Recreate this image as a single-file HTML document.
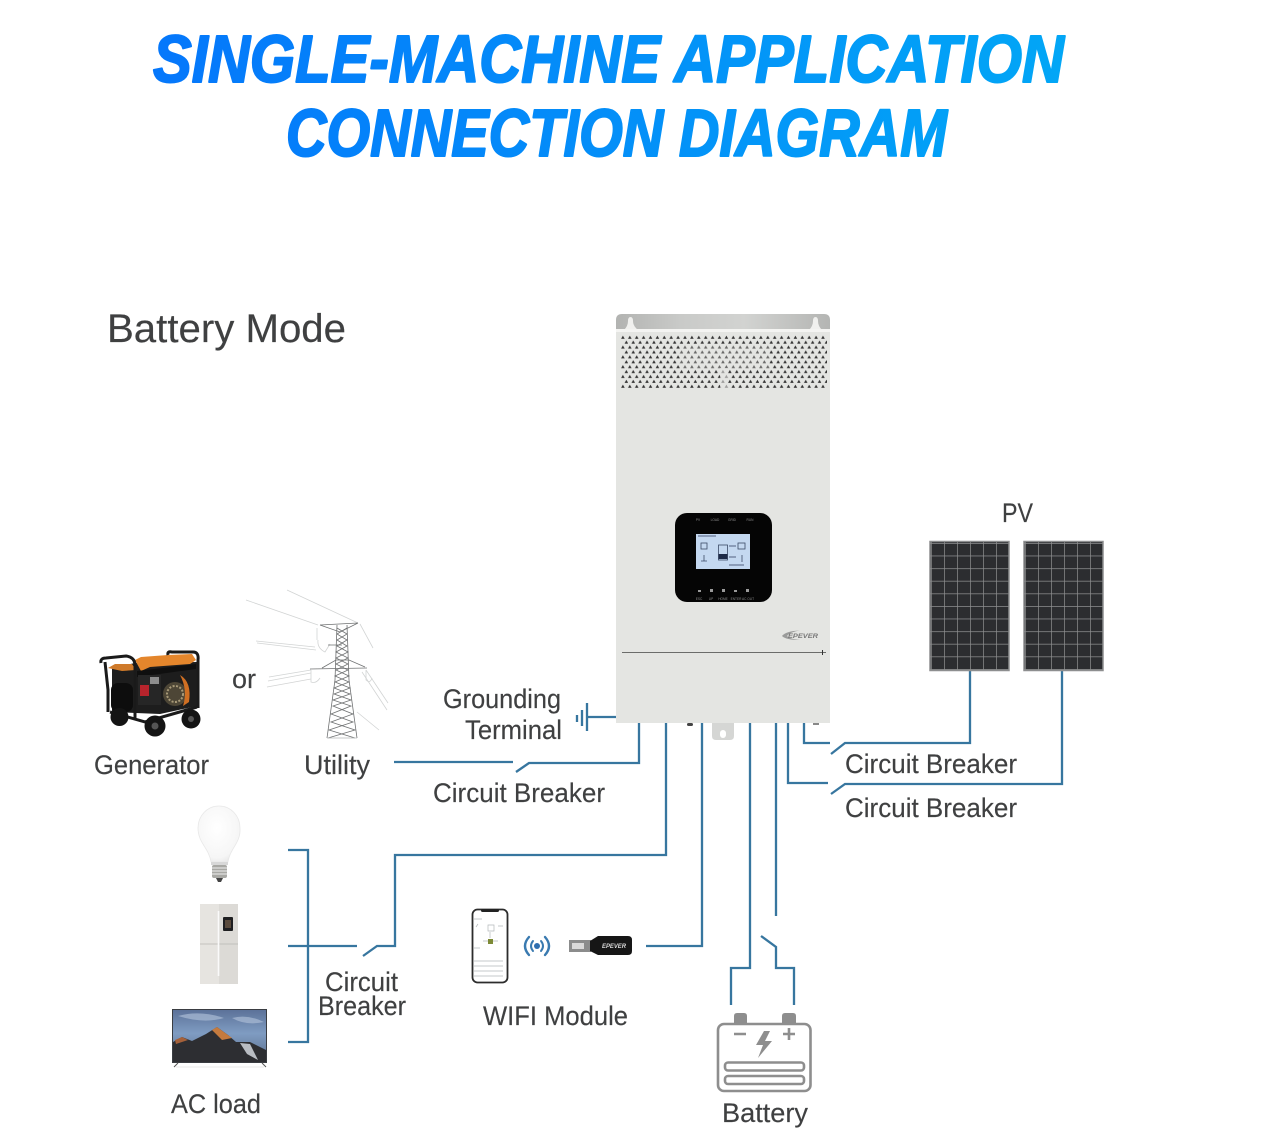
<!DOCTYPE html>
<html lang="en">
<head>
<meta charset="utf-8">
<title>Single-Machine Application Connection Diagram</title>
<style>
html,body{margin:0;padding:0;background:#fff;}
svg{display:block;}
.t{font-family:"Liberation Sans","Noto Sans CJK SC",sans-serif;font-size:27px;fill:#3f4041;stroke:#3f4041;stroke-width:.15;}
.ttl{font-family:"Liberation Sans",sans-serif;font-weight:bold;font-style:italic;font-size:67px;fill:url(#tg);stroke:url(#tg);stroke-width:2;stroke-linejoin:round;}
.w{fill:none;stroke:#37769f;stroke-width:2.3;}
</style>
</head>
<body>
<svg xmlns="http://www.w3.org/2000/svg" width="1278" height="1140" viewBox="0 0 1278 1140">
<defs>
<linearGradient id="tg" gradientUnits="userSpaceOnUse" x1="150" y1="0" x2="1065" y2="0">
<stop offset="0" stop-color="#0577fb"/><stop offset="1" stop-color="#02a6f6"/>
</linearGradient>
<linearGradient id="band" x1="0" y1="0" x2="1" y2="0">
<stop offset="0" stop-color="#b2b3b1"/><stop offset=".3" stop-color="#c9cac8"/><stop offset=".6" stop-color="#d2d3d1"/><stop offset="1" stop-color="#b4b5b3"/>
</linearGradient>
<pattern id="vent" patternUnits="userSpaceOnUse" x="621" y="335" width="6.9" height="9.8">
<path d="M1.900 .6L3.700 3.800H.1Z M5.350 5.500L7.150 8.700H3.550Z" fill="#333"/>
</pattern>
<pattern id="cell" patternUnits="userSpaceOnUse" x="931" y="543" width="13" height="12.6">
<rect width="13" height="12.6" fill="#2c2d30"/>
<path d="M0 .4H13M.4 0V12.6" stroke="#8f9091" stroke-width=".7"/>
</pattern>
<pattern id="cell2" patternUnits="userSpaceOnUse" x="1025" y="543" width="13" height="12.6">
<rect width="13" height="12.6" fill="#2c2d30"/>
<path d="M0 .4H13M.4 0V12.6" stroke="#8f9091" stroke-width=".7"/>
</pattern>
<radialGradient id="bulb" cx=".45" cy=".4" r=".7">
<stop offset="0" stop-color="#ffffff"/><stop offset=".75" stop-color="#f6f6f6"/><stop offset="1" stop-color="#e2e2e2"/>
</radialGradient>
<linearGradient id="sky" x1="0" y1="0" x2="0" y2="1">
<stop offset="0" stop-color="#5c7299"/><stop offset=".45" stop-color="#7f9cc2"/><stop offset="1" stop-color="#5a6e8c"/>
</linearGradient>
</defs>

<rect width="1278" height="1140" fill="#fff"/>

<!-- Title -->
<text class="ttl" x="153" y="82" textLength="911" lengthAdjust="spacingAndGlyphs">SINGLE-MACHINE APPLICATION</text>
<text class="ttl" x="286" y="156" textLength="661" lengthAdjust="spacingAndGlyphs">CONNECTION DIAGRAM</text>

<text class="t" x="107" y="342" style="font-size:40px" textLength="239" lengthAdjust="spacingAndGlyphs">Battery Mode</text>

<!-- Wires -->
<g class="w">
<path d="M577 715V722M582 710V726M587 703V731M587 717H617"/>
<path d="M394 762H513M516 772L529 763H639V722"/>
<path d="M666 722V855H395V946H377L363 956"/>
<path d="M288 946H357"/>
<path d="M288 850H308V1042H288"/>
<path d="M702 722V946H646"/>
<path d="M750 722V968H731V1005"/>
<path d="M776 722V916"/>
<path d="M761 936L776 947V968H794V1005"/>
<path d="M788 722V783H828"/>
<path d="M831 794L845 784H1062V670"/>
<path d="M804 722V743H830"/>
<path d="M831 754L845 743H970V670"/>
</g>

<!-- Inverter -->
<path d="M616 329V320Q616 314 622 314H824Q830 314 830 320V329Z" fill="url(#band)"/>
<path d="M624 330Q628 326 628 321Q628 317 630.500 317Q633 317 633 321Q633 326 638 330Z M809 330Q813 326 813 321Q813 317 815.500 317Q818 317 818 321Q818 326 822 330Z" fill="#f0f0ee"/>
<rect x="616" y="329" width="214" height="3" fill="#f4f4f2"/>
<rect x="616" y="332" width="214" height="391" fill="#e4e5e2"/>
<rect x="621" y="335" width="206" height="54" fill="url(#vent)"/>
<rect x="680" y="345" width="90" height="24" fill="#e4e5e2" opacity=".3"/>
<rect x="720" y="368" width="8" height="21" fill="#e4e5e2" opacity=".6"/>
<path d="M622 652.500H826" stroke="#6b6c6a" stroke-width="1.100"/>
<path d="M822.500 650V655" stroke="#333" stroke-width="1"/>

<!-- Control panel -->
<rect x="675" y="513" width="97" height="89" rx="12" fill="#050505"/>
<rect x="696" y="534" width="54" height="35" fill="#c4d8f0"/>
<g fill="#8c8c8c" font-family="Liberation Sans, sans-serif" font-size="3.200" text-anchor="middle">
<text x="698" y="521">PV</text><text x="715" y="521">LOAD</text><text x="732" y="521">GRID</text><text x="750" y="521">RUN</text>
<text x="699" y="600">ESC</text><text x="711" y="600">UP</text><text x="723" y="600">HOME</text><text x="736" y="600">ENTER</text><text x="748" y="600">AC OUT</text>
</g>
<g fill="#9a9a9a">
<rect x="698" y="590" width="3" height="2"/><rect x="710" y="589" width="3" height="3"/><rect x="722" y="589" width="3" height="3"/><rect x="734" y="590" width="3" height="2"/><rect x="746" y="589" width="3" height="3"/>
</g>
<g fill="none" stroke="#3b4a66" stroke-width=".8">
<rect x="701" y="543" width="6" height="6"/><path d="M704 555V561M701 561H707"/>
<rect x="718.500" y="545" width="9" height="15"/><rect x="738" y="543" width="7" height="6"/><path d="M742 555V562"/>
</g>
<rect x="718.500" y="554" width="9" height="5" fill="#1d2a47"/>
<path d="M698 536H716M729 546H736M729 557H736M729 565H744" stroke="#52617f" stroke-width=".9"/>

<!-- Logo -->
<path d="M782 636Q786 631 800 630.500Q790 632 787 636Q790 639 800 640Q786 640 782 636Z" fill="#9a9b9a"/>
<text x="788" y="638" font-family="Liberation Sans, sans-serif" font-size="6.500" font-weight="bold" font-style="italic" fill="#777" textLength="30" lengthAdjust="spacingAndGlyphs">EPEVER</text>

<!-- Bottom fittings -->
<path d="M712 723H734V736Q734 740 730 740H716Q712 740 712 736Z" fill="#d5d6d4"/>
<rect x="720" y="730" width="6" height="8" rx="3" fill="#fff"/>
<rect x="687" y="723" width="6" height="3" rx="1.500" fill="#444"/>
<rect x="813" y="723" width="6" height="2" fill="#888"/>

<!-- PV -->
<text class="t" x="1002" y="522" textLength="31" lengthAdjust="spacingAndGlyphs">PV</text>
<rect x="930" y="541.500" width="79" height="129" fill="url(#cell)" stroke="#8d8e8f" stroke-width="1.500"/>
<rect x="1024" y="541.500" width="79" height="129" fill="url(#cell2)" stroke="#8d8e8f" stroke-width="1.500"/>

<!-- Generator -->
<g>
<path d="M112 668L135 663L197 662V706L160 714L112 712Z" fill="#1d1d1d"/>
<path d="M135 660L141 657L168 655L192 654L196 660L190 664L150 667L141 671Z" fill="#e4862c"/>
<path d="M108 668L115 664L132 664L136 670L122 671Z" fill="#cf7a2a"/>
<path d="M137 671L196 664V669L137 677Z" fill="#0f0f0f"/>
<path d="M101 663Q100 658 106 658L126 656Q134 657 135 664V720" fill="none" stroke="#1a1a1a" stroke-width="3"/>
<path d="M168 655Q167 651 172 652L193 652Q199 652 198 660V708" fill="none" stroke="#1a1a1a" stroke-width="3"/>
<path d="M105 662L108 690V712M110 712L145 722L197 707" fill="none" stroke="#1a1a1a" stroke-width="3"/>
<rect x="111" y="683" width="22" height="29" rx="7" fill="#0d0d0d"/>
<rect x="138" y="675" width="23" height="30" fill="#262626"/>
<rect x="140" y="685" width="9" height="11" fill="#b7242c"/>
<rect x="150" y="677" width="9" height="7" fill="#8d8d8d"/>
<circle cx="175" cy="694" r="12" fill="#4d4636"/>
<circle cx="175" cy="694" r="8" fill="none" stroke="#a89a78" stroke-width="2" stroke-dasharray="2 1.500"/>
<path d="M180 675Q192 682 189 702L183 706Q188 690 180 675Z" fill="#cf6f23"/>
<circle cx="119.500" cy="717" r="9" fill="#141414"/>
<circle cx="155" cy="726" r="10.500" fill="#141414"/><circle cx="155" cy="726" r="3.500" fill="#555"/>
<circle cx="191" cy="719" r="9.500" fill="#141414"/><circle cx="191" cy="719" r="3" fill="#555"/>
</g>

<!-- Utility tower -->
<g fill="none" stroke="#d2d4d4" stroke-width=".8">
<path d="M246 600L318 625M287 590L358 623M256 641L315 647M257 643L316 650M269 677L311 670M268 681L311 673M267 687L311 679"/>
<path d="M360 624L373 648M366 670L388 703M362 672L387 710M357 712L379 730"/>
<path d="M317 628V640M318 640Q317 648 325 652L330 644M311 670V682Q316 684 320 678M366 670V680Q370 684 372 678"/>
</g>
<g fill="none" stroke="#6f7172" stroke-width=".8">
<path d="M320 625L358 623M310 669L367 668M322 668L336 660H349L365 667M328 645H342"/>
<path d="M337 625L335 680L327 738M347 625L349 680L357 738"/>
<path d="M337 628L347 634L337 640L347 646L336 652L348 658L336 664L348 670L335 676L349 682L334 688L350 694L333 700L351 706L331 714L353 722L329 730L355 738"/>
<path d="M347 628L337 634L347 640L337 646L348 652L336 658L348 664L336 670L349 676L335 682L350 688L334 694L351 700L333 706L353 714L331 722L355 730L328 738"/>
<path d="M327 738H357" stroke="#b5b7b7"/>
<path d="M320 625L340 632L358 623"/>
</g>

<text class="t" x="232" y="688" textLength="24" lengthAdjust="spacingAndGlyphs">or</text>
<text class="t" x="94" y="774" textLength="115" lengthAdjust="spacingAndGlyphs">Generator</text>
<text class="t" x="304" y="774" textLength="66" lengthAdjust="spacingAndGlyphs">Utility</text>
<text class="t" x="443" y="708" textLength="118" lengthAdjust="spacingAndGlyphs">Grounding</text>
<text class="t" x="465" y="739" textLength="97" lengthAdjust="spacingAndGlyphs">Terminal</text>
<text class="t" x="433" y="802" textLength="172" lengthAdjust="spacingAndGlyphs">Circuit Breaker</text>
<text class="t" x="845" y="773" textLength="172" lengthAdjust="spacingAndGlyphs">Circuit Breaker</text>
<text class="t" x="845" y="817" textLength="172" lengthAdjust="spacingAndGlyphs">Circuit Breaker</text>
<text class="t" x="325" y="991" textLength="73" lengthAdjust="spacingAndGlyphs">Circuit</text>
<text class="t" x="318" y="1015" textLength="88" lengthAdjust="spacingAndGlyphs">Breaker</text>
<text class="t" x="483" y="1025" textLength="145" lengthAdjust="spacingAndGlyphs">WIFI Module</text>
<text class="t" x="171" y="1113" textLength="90" lengthAdjust="spacingAndGlyphs">AC load</text>
<text class="t" x="722" y="1122" textLength="86" lengthAdjust="spacingAndGlyphs">Battery</text>

<!-- Bulb -->
<path d="M219 806C207 806 198 816 198 828C198 843 209 848 211 862H228C230 848 241 843 240 828C240 816 231 806 219 806Z" fill="url(#bulb)" stroke="#e8e8e8" stroke-width=".8"/>
<rect x="211" y="862" width="17" height="3" fill="#d8d8d8"/>
<rect x="212" y="865" width="15" height="13" rx="2" fill="#a9a9a5"/>
<path d="M212 868H227M212 871H227M212 874H227" stroke="#eee" stroke-width="1"/>
<path d="M216 878H223L221 882H218Z" fill="#444"/>

<!-- Fridge -->
<rect x="200" y="904" width="38" height="80" fill="#dcdad6"/>
<rect x="200" y="904" width="19" height="80" fill="#e6e4e0"/>
<path d="M200 944H238" stroke="#b9b7b3" stroke-width=".8"/>
<path d="M218.500 911V976" stroke="#fafafa" stroke-width="1.600"/>
<rect x="223" y="917" width="10" height="14" rx="1" fill="#1e1e20"/>
<rect x="225" y="920" width="6" height="8" fill="#5a4a3c"/>

<!-- TV -->
<rect x="172" y="1009" width="95" height="54" fill="#3a3d42"/>
<rect x="173" y="1010" width="93" height="52" fill="url(#sky)"/>
<path d="M178 1016Q200 1010 224 1018Q204 1024 178 1016ZM232 1018Q248 1014 264 1022Q246 1026 232 1018Z" fill="#a9bbd4" opacity=".7"/>
<path d="M173 1042L182 1037L192 1041L206 1034L217 1027L228 1035L236 1042L250 1042L266 1050V1062H173Z" fill="#2d2e32"/>
<path d="M212 1030L217 1027L232 1038L222 1040Z" fill="#c47a3e"/>
<path d="M175 1040L182 1037L188 1040L176 1044Z" fill="#a5613a"/>
<path d="M240 1043L250 1044L258 1060L247 1054Z" fill="#b9bdc3"/>
<path d="M174 1067L178 1063M266 1067L262 1063" stroke="#555" stroke-width="1"/>
<path d="M176 1067H264" stroke="#e8e8e8" stroke-width="1"/>

<!-- Phone -->
<rect x="472.500" y="909.500" width="35" height="73" rx="5" fill="#fff" stroke="#2c2c2c" stroke-width="1.800"/>
<rect x="481" y="909" width="18" height="3" rx="1.500" fill="#222"/>
<rect x="488" y="939" width="5" height="5" fill="#7d8a36"/>
<path d="M474 919H482M476 927L478 924M488 925H494V931H488ZM498 926H503M490 932V938M483 941H488M493 941H498M474 948H480M474 961H503M474 966H503M474 971H503M474 976H503" stroke="#b4b8ba" stroke-width=".7" fill="none"/>

<!-- Wifi icon -->
<g fill="none" stroke="#3a7ab0" stroke-width="2.400" stroke-linecap="round">
<path d="M529 937Q521 946 529 955M545 937Q553 946 545 955"/>
<path d="M533 941Q529 946 533 951M541 941Q545 946 541 951" stroke-width="2"/>
</g>
<circle cx="537" cy="946" r="3" fill="#2f6fb0"/>

<!-- Dongle -->
<rect x="569" y="940" width="22" height="12" fill="#8b8c8c"/>
<rect x="572" y="943" width="12" height="6" fill="#d9d9d9"/>
<path d="M590 941L598 936H628Q632 936 632 940V951Q632 955 628 955H598L590 951Z" fill="#161616"/>
<text x="602" y="948" font-family="Liberation Sans, sans-serif" font-size="6" font-weight="bold" font-style="italic" fill="#d8d8d8" textLength="24" lengthAdjust="spacingAndGlyphs">EPEVER</text>

<!-- Battery -->
<g fill="none" stroke="#8e8e8e" stroke-width="2.600">
<rect x="718" y="1024" width="92.500" height="67" rx="6"/>
<rect x="725" y="1062.500" width="79" height="8" rx="3"/>
<rect x="725" y="1076" width="79" height="8" rx="3"/>
<path d="M734 1034H746M783 1034H795M789 1028V1040"/>
</g>
<path d="M734 1023V1016Q734 1013 737 1013H744Q747 1013 747 1016V1023Z M782 1023V1016Q782 1013 785 1013H793Q796 1013 796 1016V1023Z" fill="#8e8e8e"/>
<path d="M764 1031L756 1045H763L758 1058L772 1041H765L770 1031Z" fill="#8e8e8e"/>
</svg>
</body>
</html>
